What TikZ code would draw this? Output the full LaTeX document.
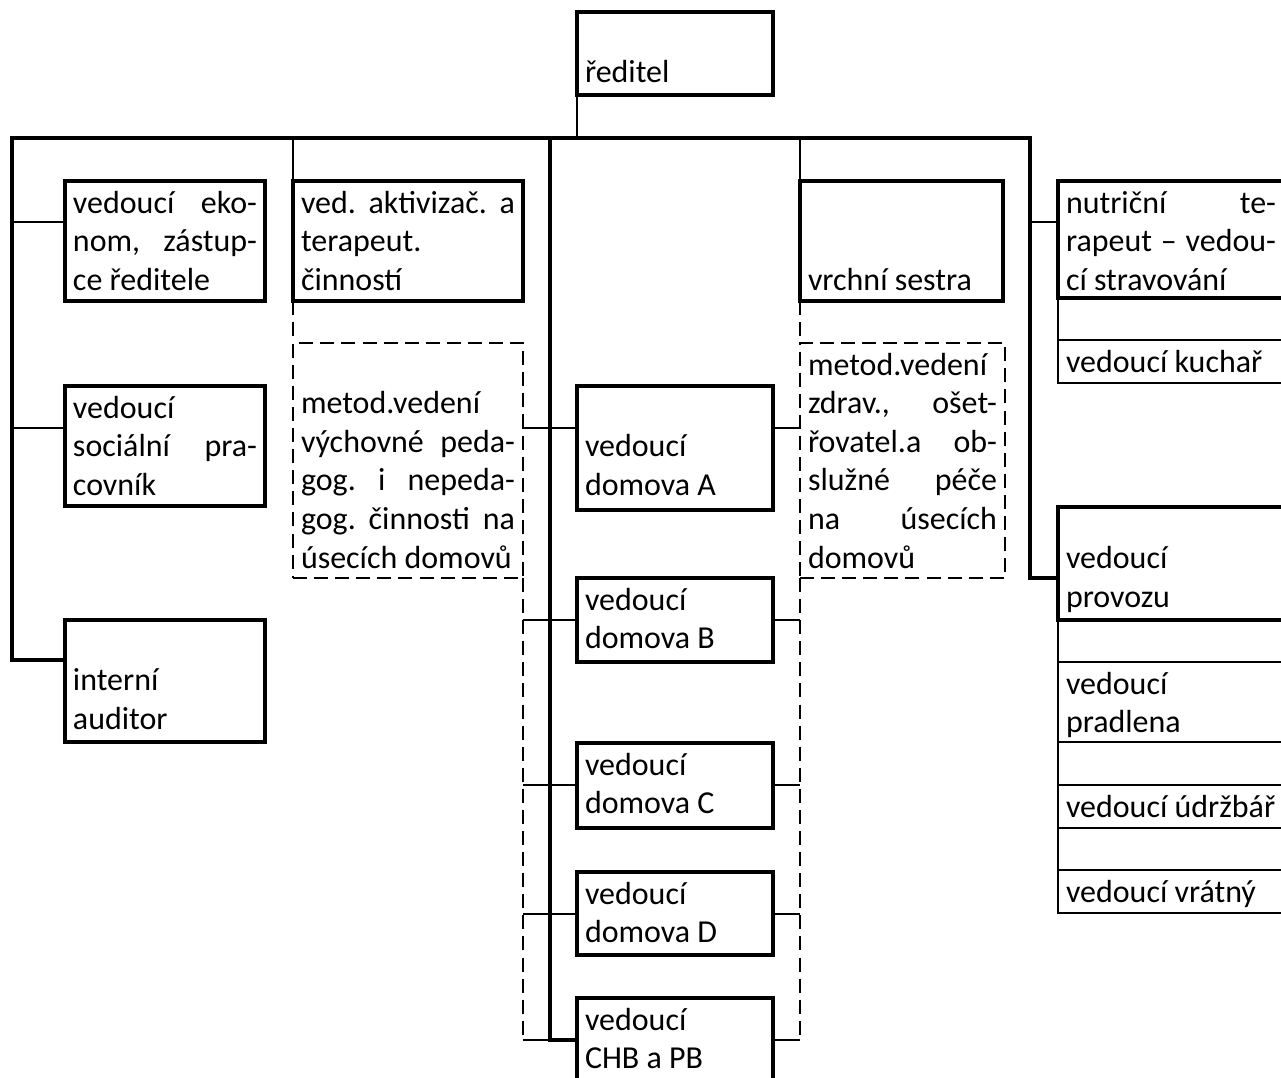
\documentclass[tikz,border=0pt]{standalone}
\usepackage{fontspec}
\setmainfont{Carlito}
\usetikzlibrary{calc}

\newlength{\pxunit}
\setlength{\pxunit}{0.02cm}
\newcommand{\orgfont}{\fontsize{18.2pt}{22pt}\selectfont}
% frame text: width, height (in px), lines
\newcommand{\boxtext}[3]{\parbox[c][#2\pxunit][t]{\dimexpr#1\pxunit-16\pxunit\relax}{\rule{0pt}{32\pxunit}#3}}

\begin{document}
\begin{tikzpicture}[
		x=0.02cm, y=-0.02cm,
		orgbox/.style={draw, line width=1.8pt, anchor=north west, inner xsep=0.16cm, inner ysep=0pt, outer sep=0pt, font=\orgfont},
		subbox/.style={orgbox, line width=0.9pt},
		methodbox/.style={orgbox, line width=0.9pt, dash pattern=on 8pt off 4pt},
		thickline/.style={line width=1.8pt},
		thinline/.style={line width=0.9pt},
		dashline/.style={line width=0.9pt, dash pattern=on 8pt off 4pt}
	]
	\useasboundingbox (0,0) rectangle (1281,1078);

	% top
	\node[orgbox] (reditel) at (577,12) {\boxtext{196}{83}{\\ředitel}};

	% left column
	\node[orgbox] (ekonom) at (65,181) {\boxtext{200}{120}{vedoucí\hfill eko-\\nom,\hfill zástup-\\ce ředitele}};
	\node[orgbox] (social) at (65,386) {\boxtext{200}{120}{vedoucí\\sociální\hfill pra-\\covník}};
	\node[orgbox] (auditor) at (65,620) {\boxtext{200}{122}{\\interní\\auditor}};

	% activities and nursing
	\node[orgbox] (aktiv) at (293,181) {\boxtext{230}{120}{ved.\hfill aktivizač.\hfill a\\terapeut.\\činností}};
	\node[methodbox] (metodL) at (293,343) {\boxtext{230}{235}{\\metod.vedení\\výchovné\hfill peda-\\gog.\hfill i\hfill nepeda-\\gog.\hfill činnosti\hfill na\\úsecích domovů}};
	\node[orgbox] (sestra) at (800,181) {\boxtext{203}{120}{\\\mbox{}\\vrchní sestra}};
	\node[methodbox] (metodR) at (800,343) {\boxtext{205}{235}{metod.vedení\\zdrav.,\hfill ošet-\\řovatel.a\hfill ob-\\služné\hfill péče\\na\hfill úsecích\\domovů}};

	% homes
	\node[orgbox] (domA) at (577,386) {\boxtext{196}{124}{\\vedoucí\\domova A}};
	\node[orgbox] (domB) at (577,578) {\boxtext{196}{84}{vedoucí\\domova B}};
	\node[orgbox] (domC) at (577,743) {\boxtext{196}{85}{vedoucí\\domova C}};
	\node[orgbox] (domD) at (577,872) {\boxtext{196}{83}{vedoucí\\domova D}};
	\node[orgbox] (domCHB) at (577,998) {\boxtext{196}{100}{vedoucí\\CHB a PB}};

	% right column
	\node[orgbox] (nutri) at (1058,181) {\boxtext{226}{117}{nutriční\hfill te-\\rapeut\hfill –\hfill vedou-\\cí stravování}};
	\node[subbox] (kuchar) at (1058,340) {\boxtext{226}{43}{vedoucí kuchař}};
	\node[orgbox] (provoz) at (1058,507) {\boxtext{226}{113}{\\[-9\pxunit]vedoucí\\provozu}};
	\node[subbox] (pradlena) at (1058,662) {\boxtext{226}{80}{vedoucí\\pradlena}};
	\node[subbox] (udrzbar) at (1058,785) {\boxtext{226}{43}{vedoucí údržbář}};
	\node[subbox] (vratny) at (1058,870) {\boxtext{226}{43}{vedoucí vrátný}};
	\foreach \upper/\lower in {nutri/kuchar, provoz/pradlena, pradlena/udrzbar, udrzbar/vratny}
		\draw[thinline] (\upper.south west) rectangle (\lower.north east);

	% bus and trunks
	\coordinate (busL) at (12,138);
	\coordinate (busC) at (550,138);
	\coordinate (busR) at (1030,138);
	\draw[thickline] ($(auditor.north west)+(0,40)$) -| (busL) -- (busR) |- ($(provoz.north west)+(0,71)$);
	\draw[thinline] (reditel.south west) -- (reditel.south west |- busL);
	\draw[thinline] (aktiv.north west) -- (aktiv.north west |- busL);
	\draw[thinline] (sestra.north west) -- (sestra.north west |- busL);
	\draw[dashline] (aktiv.south west) -- (metodL.north west);
	\draw[dashline] (sestra.south west) -- (metodR.north west);

	\foreach \unitname/\dy in {ekonom/41, social/42}
		\draw[thinline] ($(\unitname.north west)+(0,\dy)$) coordinate (p) -- (p -| busL);
	\draw[thinline] ($(nutri.north west)+(0,41)$) coordinate (p) -- (p -| busR);

	\foreach \unitname in {domA,domB,domC,domD,domCHB} {
		\draw[thinline] ($(\unitname.north west)+(0,42)$) coordinate (p) -- (p -| metodL.east);
		\draw[thinline] ($(\unitname.north east)+(0,42)$) coordinate (p) -- (p -| metodR.west);
	}
	\draw[thickline] (busC) |- ($(domCHB.north west)+(0,42)$) coordinate (chbIn);
	\draw[dashline] (metodL.south east) -- (metodL.south east |- chbIn);
	\draw[dashline] (metodR.south west) -- (metodR.south west |- chbIn);
\end{tikzpicture}
\end{document}
